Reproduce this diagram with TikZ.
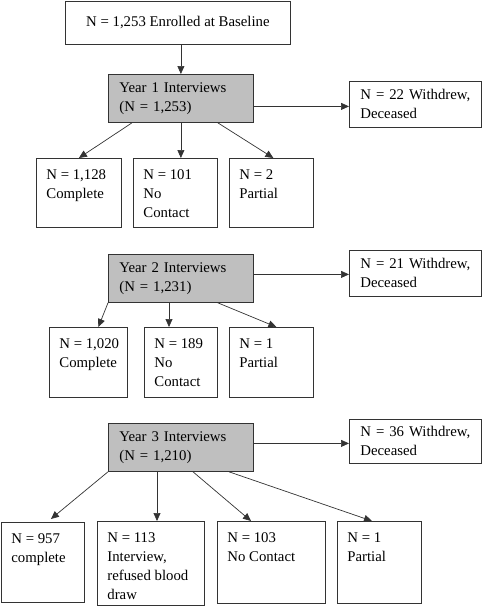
\documentclass[tikz,border=0pt]{standalone}
\usepackage{fontspec}
\setmainfont{Liberation Serif}
\usetikzlibrary{arrows.meta}
\newcommand\fs{\fontsize{14.8}{19}\selectfont}
\newcommand\cellbox[3]{\parbox[c][#2][t]{#1}{\raggedright\leftskip=10pt\vspace*{7.5pt}\strut #3}}
\begin{document}
\begin{tikzpicture}[x=1pt,y=-1pt,
  bx/.style={draw=black!80, line width=0.8pt, anchor=north west, font=\fs, align=left},
  mid/.style={bx, inner xsep=11pt, inner ysep=0pt},
  yr/.style={mid, fill=black!25},
  leaf/.style={bx, inner sep=0pt},
  arr/.style={draw=black!80, line width=0.7pt, -{Triangle[length=8pt,width=7pt]}}]
\useasboundingbox (0,0) rectangle (484,606);
% top
\node[bx, align=center, inner sep=0pt, minimum width=225pt, minimum height=43pt] (top) at (65,1) {N = 1,253 Enrolled at Baseline};
% year 1
\node[yr, text width=123pt, minimum height=48pt] (y1) at (108,74) {Year 1 Interviews\\(N = 1,253)};
\node[mid, text width=110pt, minimum height=46pt] (w1) at (349,81) {N = 22 Withdrew,\\Deceased};
\node[leaf] (c11) at (36,158) {\cellbox{85pt}{69pt}{N = 1,128\\Complete}};
\node[leaf] (c12) at (133,158) {\cellbox{84pt}{69pt}{N = 101\\No\\Contact}};
\node[leaf] (c13) at (229,158) {\cellbox{84pt}{69pt}{N = 2\\Partial}};
% year 2
\node[yr, text width=123pt, minimum height=48pt] (y2) at (108,254) {Year 2 Interviews\\(N = 1,231)};
\node[mid, text width=110pt, minimum height=46pt] (w2) at (349,250) {N = 21 Withdrew,\\Deceased};
\node[leaf] (c21) at (49,327) {\cellbox{78pt}{70pt}{N = 1,020\\Complete}};
\node[leaf] (c22) at (144,327) {\cellbox{73pt}{70pt}{N = 189\\No\\Contact}};
\node[leaf] (c23) at (229,327) {\cellbox{84pt}{70pt}{N = 1\\Partial}};
% year 3
\node[yr, text width=123pt, minimum height=48pt] (y3) at (108,423) {Year 3 Interviews\\(N = 1,210)};
\node[mid, text width=110pt, minimum height=44pt] (w3) at (349,419) {N = 36 Withdrew,\\Deceased};
\node[leaf] (c31) at (1,522) {\cellbox{83pt}{80pt}{N = 957\\complete}};
\node[leaf] (c32) at (97,521) {\cellbox{107pt}{84pt}{N = 113\\Interview,\\refused blood\\draw}};
\node[leaf] (c33) at (217,521) {\cellbox{108pt}{82pt}{N = 103\\No Contact}};
\node[leaf] (c34) at (337,521) {\cellbox{84pt}{82pt}{N = 1\\Partial}};
% connectors
\draw[arr] (y1.north |- top.south) -- (y1.north);
\draw[arr] ([yshift=-8pt]y1.east) -- ([yshift=-8pt]y1.east -| w1.west);
\draw[arr] ([xshift=24pt]y1.south west) -- (c11.north);
\draw[arr] (y1.south) -- (y1.south |- c12.north);
\draw[arr] ([xshift=-36pt]y1.south east) -- ([xshift=2pt]c13.north);
\draw[arr] ([yshift=4pt]y2.east) -- ([yshift=4pt]y2.east -| w2.west);
\draw[arr] (y2.south west) -- ([xshift=10pt]c21.north);
\draw[arr] ([xshift=61pt]y2.south west) -- ([xshift=61pt]y2.south west |- c22.north);
\draw[arr] ([xshift=-36pt]y2.south east) -- ([xshift=5pt]c23.north);
\draw[arr] ([yshift=4pt]y3.east) -- ([yshift=4pt]y3.east -| w3.west);
\draw[arr] (y3.south west) -- ([xshift=8pt,yshift=3pt]c31.north);
\draw[arr] ([xshift=49pt]y3.south west) -- ([xshift=49pt]y3.south west |- c32.north);
\draw[arr] ([xshift=85pt]y3.south west) -- ([xshift=34pt]c33.north west);
\draw[arr] ([xshift=121pt]y3.south west) -- ([xshift=35pt]c34.north west);
\end{tikzpicture}
\end{document}
